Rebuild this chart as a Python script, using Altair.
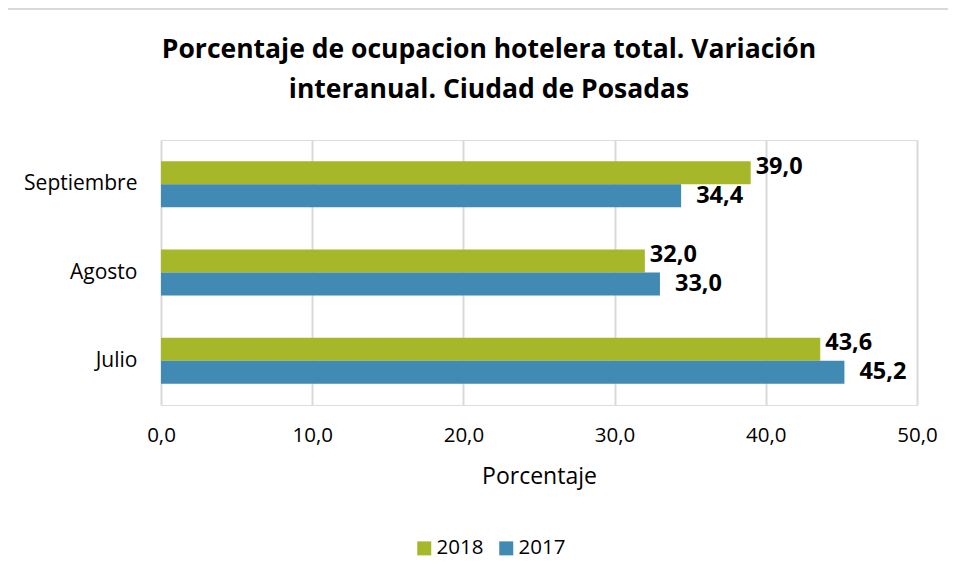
import altair as alt
import pandas as pd

# ---- data ----
meses = ["Septiembre", "Agosto", "Julio"]
anios = ["2018", "2017"]
valores_2018 = [39.0, 32.0, 43.6]
valores_2017 = [34.4, 33.0, 45.2]
colores = ["#a6b72a", "#418ab3"]
ticks_x = [0, 10, 20, 30, 40, 50]
titulo_1 = "Porcentaje de ocupacion hotelera total. Variación"
titulo_2 = "interanual. Ciudad de Posadas"

rows = []
for m, v18, v17 in zip(meses, valores_2018, valores_2017):
    rows.append({"mes": m, "anio": "2018", "valor": v18})
    rows.append({"mes": m, "anio": "2017", "valor": v17})
df = pd.DataFrame(rows)

FONT = "Open Sans"
GRID = "#d9d9d9"

x_enc = alt.X(
    "valor:Q",
    scale=alt.Scale(domain=[0, 50]),
    axis=alt.Axis(
        values=ticks_x,
        title="Porcentaje",
        titleFont=FONT,
        titleFontSize=23,
        titleFontWeight="normal",
        titleColor="#000",
        titlePadding=20,
        labelFont=FONT,
        labelFontSize=20.5,
        labelColor="#000",
        labelPadding=20,
        labelFlush=False,
        labelExpr="replace(format(datum.value, '.1f'), '.', ',')",
        ticks=False,
        domain=False,
        grid=True,
        gridColor=GRID,
        gridWidth=2,
    ),
)
y_enc = alt.Y(
    "mes:N",
    sort=meses,
    scale=alt.Scale(paddingInner=0.48, paddingOuter=0.24),
    axis=alt.Axis(
        title=None,
        ticks=False,
        domain=False,
        labelPadding=24,
        labelFont=FONT,
        labelFontSize=21,
        labelColor="#000",
    ),
)
yoff = alt.YOffset("anio:N", sort=anios)

base = alt.Chart(df).encode(x=x_enc, y=y_enc, yOffset=yoff)

bars = base.mark_bar().encode(
    color=alt.Color(
        "anio:N",
        sort=anios,
        scale=alt.Scale(domain=anios, range=colores),
        legend=alt.Legend(
            orient="none",
            legendX=253,
            legendY=398,
            direction="horizontal",
            title=None,
            symbolType="square",
            symbolSize=196,
            symbolStrokeWidth=0,
            labelFont=FONT,
            labelFontSize=20.5,
            labelColor="#000",
            labelOffset=2,
            columnPadding=12,
        ),
    )
)

label_calc = "replace(format(datum.valor, '.1f'), '.', ',')"
text_2018 = (
    base.transform_filter("datum.anio == '2018'")
    .transform_calculate(etiqueta=label_calc)
    .mark_text(align="left", baseline="middle", dx=5, dy=-6,
               font=FONT, fontSize=23.5, fontWeight="bold", color="#000")
    .encode(text="etiqueta:N")
)
text_2017 = (
    base.transform_filter("datum.anio == '2017'")
    .transform_calculate(etiqueta=label_calc)
    .mark_text(align="left", baseline="middle", dx=15,
               font=FONT, fontSize=23.5, fontWeight="bold", color="#000")
    .encode(text="etiqueta:N")
)

one = pd.DataFrame({"f": [0]})
frame = alt.Chart(one).mark_rect(
    filled=False, stroke=GRID, strokeWidth=2
).encode(
    x=alt.value(-156), x2=alt.value(900),
    y=alt.value(-131), y2=alt.value(600),
)

title_style = dict(font=FONT, fontSize=26.5, fontWeight="bold", color="#000",
                   align="center", baseline="alphabetic")
title_a = alt.Chart(one).mark_text(**title_style).encode(
    text=alt.value(titulo_1), x=alt.value(328), y=alt.value(-82)
)
title_b = alt.Chart(one).mark_text(**title_style).encode(
    text=alt.value(titulo_2), x=alt.value(328), y=alt.value(-42)
)

chart = (
    alt.layer(frame, title_a, title_b, bars, text_2018, text_2017)
    .properties(
        width=756,
        height=265,
        padding={"left": 153, "top": 132, "right": 31, "bottom": 168},
        autosize=alt.AutoSizeParams(type="none"),
    )
    .configure_view(stroke=None)
    .configure(background="white")
)

chart.save("out.html", embed_options={"renderer": "svg", "actions": False})
